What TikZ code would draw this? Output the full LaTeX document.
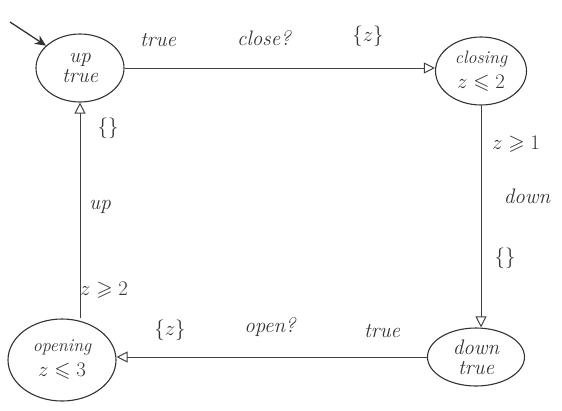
\documentclass[tikz,border=0pt]{standalone}
\usepackage{amssymb}
\usetikzlibrary{shapes.geometric,arrows.meta}
\begin{document}
\begin{tikzpicture}[x=1pt,y=-1pt,
  big/.style={font=\fontsize{21}{22}\selectfont\itshape},
  state/.style={draw,line width=1.1pt,ellipse,inner sep=0pt,align=center,big,color=black!80},
  trans/.style={draw,line width=1pt,color=black!75,-{Triangle[open,length=11pt,width=11pt]}},
  lbl/.style={big,color=black!80}]
\useasboundingbox (0,0) rectangle (562,410);
\node[state,minimum width=88pt,minimum height=68pt] (up) at (80,68) {up\\[-2pt]true};
\node[state,minimum width=91pt,minimum height=68pt] (cl) at (481,71) {{\fontsize{18}{19}\selectfont closing}\\[3pt]$z\leqslant2$};
\node[state,minimum width=97pt,minimum height=58pt] (dn) at (476,357) {down\\[-2pt]true};
\node[state,minimum width=108pt,minimum height=82pt] (op) at (62,360) {{\fontsize{18}{19}\selectfont opening}\\[3pt]$z\leqslant3$};
\coordinate (init) at (10,22);
\draw[line width=1.3pt,color=black!80,-{Stealth[length=11pt,width=10pt]}] (init) -- (up);
\draw[trans] (up.east) -- (up.east -| cl.west);
\draw[trans] (cl.south) -- (cl.south |- dn.north);
\draw[trans] (dn.west) -- (dn.west -| op.east);
\draw[trans] (op.north -| up.south) -- (up.south);
\node[lbl] (l1) at (158,40) {true};
\node[lbl] (l2) at (264,38) {close?};
\node[lbl] (l3) at (368,36) {$\{z\}$};
\node[lbl] (l4) at (516,144) {$z\geqslant1$};
\node[lbl] (l5) at (527,196) {down};
\node[lbl] (l6) at (505,258) {$\{\}$};
\node[lbl] (l7) at (382,331) {true};
\node[lbl] (l8) at (270,327) {open?};
\node[lbl] (l9) at (170,330) {$\{z\}$};
\node[lbl] (l10) at (104,290) {$z\geqslant2$};
\node[lbl] (l11) at (100,207) {up};
\node[lbl] (l12) at (108,128) {$\{\}$};
\end{tikzpicture}
\end{document}
